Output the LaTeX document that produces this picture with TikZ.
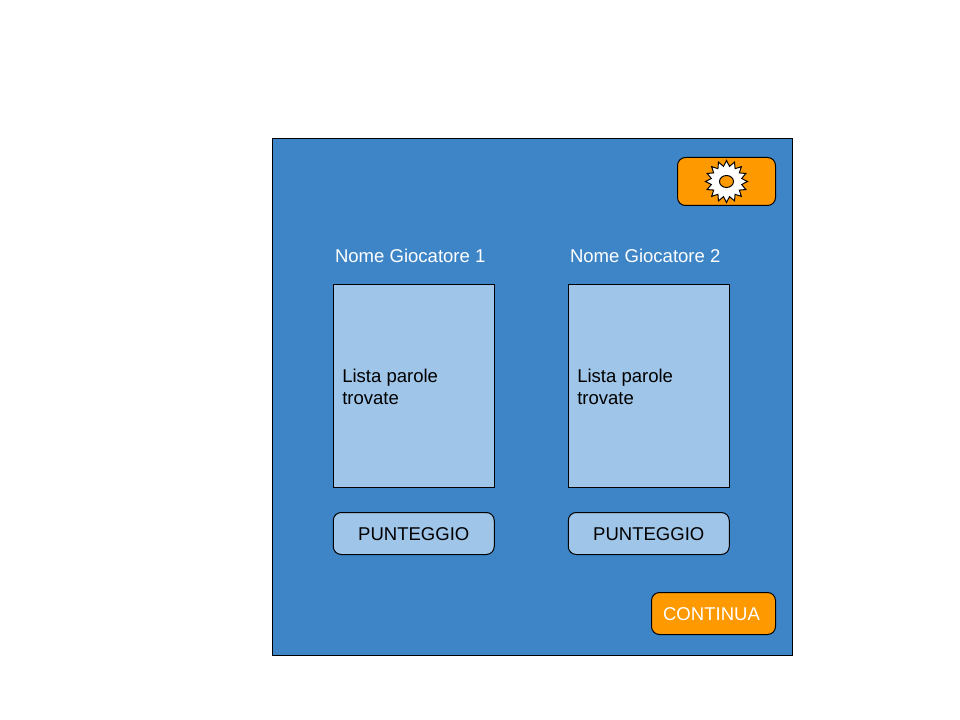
\documentclass[tikz,border=0pt]{standalone}
\usepackage{fontspec}
\setmainfont{Liberation Sans}
\usetikzlibrary{shapes.geometric}
\definecolor{panelblue}{HTML}{3D85C6}
\definecolor{lightblue}{HTML}{9FC5E8}
\definecolor{btnorange}{HTML}{FF9900}
\newcommand{\nudge}[1]{\raisebox{-0.75pt}[\height][\depth]{#1}}
\tikzset{
    box/.style={draw=black,line width=0.75pt,inner sep=0pt,outer sep=0pt},
    roundbox/.style={box,rounded corners=6pt},
    label/.style={font=\fontsize{13.9}{16.5}\selectfont},
}

\begin{document}
\begin{tikzpicture}[x=0.75pt,y=-0.75pt]
            \useasboundingbox (0,0) rectangle (960,720);

            \node[box,fill=panelblue,minimum width=390pt,minimum height=387.75pt] (panel) at (532.5,397){};

            \node[roundbox,fill=btnorange,minimum width=73.5pt,minimum height=36pt] (gearbtn) at (726.5,181.5){};
            \node[draw=black,fill=white,line width=0.75pt,star,star points=16,star point ratio=1.36,minimum size=31.5pt,inner sep=0pt] (gear) at (726.5,181.5){};
            \node[draw=black,fill=btnorange,line width=0.75pt,ellipse,minimum width=10.5pt,minimum height=9pt,inner sep=0pt] (gearhole) at (726.5,181.5){};

            \foreach \i/\x in {1/413.75,2/648.75}{
                \node[label,text=white] (name\i) at (\x-3.5,256){Nome Giocatore \i};
                \node[box,fill=lightblue,minimum width=120.75pt,minimum height=152.25pt,label] (list\i) at (\x,386){\nudge{\parbox{107.25pt}{\raggedright Lista parole\\trovate}}};
                \node[roundbox,fill=lightblue,minimum width=120.75pt,minimum height=31.5pt,label] (score\i) at (\x,533.5){\nudge{PUNTEGGIO}};
            }

            \node[roundbox,fill=btnorange,minimum width=93pt,minimum height=31.5pt,label,text=white] (continua) at (713.5,613.5){\hspace*{-3pt}\nudge{CONTINUA}};
        \end{tikzpicture}
\end{document}
